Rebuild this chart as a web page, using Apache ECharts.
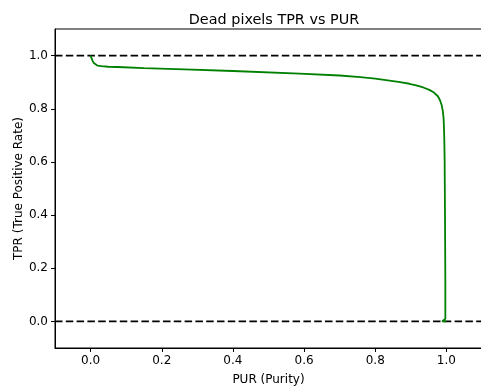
<!DOCTYPE html>
<html><head><meta charset="utf-8">
<script src="https://cdn.jsdelivr.net/npm/echarts@6/dist/echarts.min.js"></script>
<style>html,body{margin:0;padding:0;background:#fff}#c{width:481px;height:389px}</style>
</head><body><div id="c"></div>
<script>
// PUR (x) and TPR (y)
const pur = [0.0, 0.002, 0.005, 0.009, 0.014, 0.02, 0.03, 0.05, 0.076, 0.15, 0.264, 0.4, 0.587, 0.70, 0.758, 0.80, 0.84, 0.87, 0.896, 0.915, 0.935, 0.952, 0.965, 0.976, 0.982, 0.987, 0.990, 0.992, 0.993, 0.994, 0.995, 0.996, 0.997, 0.997, 0.988, 1.0];
const tpr = [1.0, 0.993, 0.982, 0.972, 0.966, 0.962, 0.96, 0.958, 0.957, 0.953, 0.948, 0.942, 0.932, 0.925, 0.919, 0.913, 0.906, 0.900, 0.894, 0.888, 0.880, 0.871, 0.861, 0.847, 0.832, 0.812, 0.790, 0.765, 0.735, 0.69, 0.61, 0.40, 0.15, 0.01, 0.0, 0.0];
const refLevels = [1.0, 0.0];
const xRange = [-0.1, 1.1];
const yRange = [-0.1, 1.1];
const tickValues = [0.0, 0.2, 0.4, 0.6, 0.8, 1.0];

const font = 'DejaVu Sans';
const chart = echarts.init(document.getElementById('c'), null, {renderer: 'canvas'});
const curve = pur.map((x, i) => [x, tpr[i]]);
const refSeries = refLevels.map(v => ({
  type: 'line', data: [[xRange[0], v], [xRange[1], v]], showSymbol: false, silent: true,
  lineStyle: {color: '#000', width: 1.8, type: [7.5, 3.3]}, z: 2, animation: false
}));
const axisCommon = {
  axisLine: {show: true, onZero: false, lineStyle: {color: '#000', width: 1}},
  axisTick: {show: true, length: 4, inside: false, lineStyle: {color: '#000', width: 1}, customValues: tickValues},
  axisLabel: {color: '#000', fontFamily: font, fontSize: 12, margin: 7, customValues: tickValues, formatter: v => v.toFixed(1)},
  splitLine: {show: false},
  nameMoveOverlap: false
};
chart.setOption({
  animation: false,
  backgroundColor: '#fff',
  title: {text: 'Dead pixels TPR vs PUR', left: 269, textAlign: 'center', top: 8,
    textStyle: {fontFamily: font, fontSize: 14.4, fontWeight: 'normal', color: '#000'}},
  grid: {left: 55, top: 29, width: 427, height: 319, outerBoundsMode: 'none', containLabel: false,
    show: true, borderColor: '#000', borderWidth: 1, backgroundColor: 'transparent'},
  xAxis: Object.assign({type: 'value', min: xRange[0], max: xRange[1],
    name: 'PUR (Purity)', nameLocation: 'middle', nameGap: 26,
    nameTextStyle: {fontFamily: font, fontSize: 12, color: '#000'}}, axisCommon),
  yAxis: Object.assign({type: 'value', min: yRange[0], max: yRange[1],
    name: 'TPR (True Positive Rate)', nameLocation: 'middle', nameGap: 30,
    nameTextStyle: {fontFamily: font, fontSize: 12, color: '#000'}}, axisCommon),
  series: refSeries.concat([{
    type: 'line', data: curve, showSymbol: false, smooth: false,
    lineStyle: {color: '#008000', width: 1.8}, z: 3
  }])
});
</script></body></html>
